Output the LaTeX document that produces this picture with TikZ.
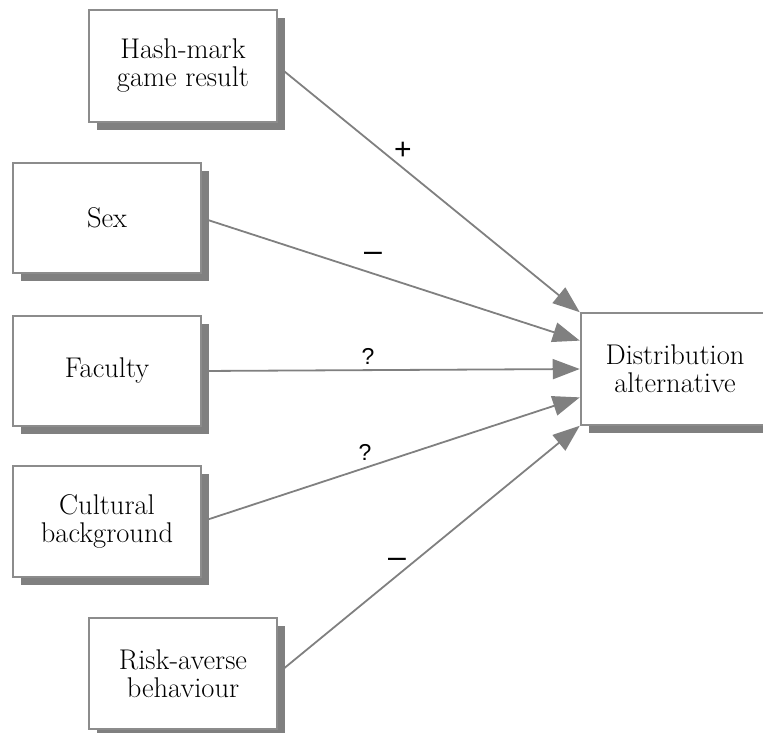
\documentclass[tikz,border=0pt]{standalone}
\usepackage{fontspec}
\newfontfamily\labelfont{Liberation Sans}
\usetikzlibrary{arrows.meta,shadows,backgrounds,calc}
\definecolor{linegray}{HTML}{808080}
\definecolor{bordergray}{HTML}{8C8C8C}
\begin{document}
\begin{tikzpicture}[x=1pt,y=-1pt,
  varbox/.style={draw=bordergray, line width=1.5pt, fill=white, minimum width=188pt,
    align=center, inner sep=0pt, font=\fontsize{28.5}{28}\selectfont,
    drop shadow={shadow xshift=8pt, shadow yshift=-8pt, fill=linegray, opacity=1}},
  link/.style={draw=linegray, line width=1.8pt, -{Triangle[length=27pt,width=20pt]}},
  sign/.style={font=\labelfont\fontsize{23}{24}\selectfont, inner sep=0pt}
]
\useasboundingbox (0,0) rectangle (763,733);
\node[varbox, minimum height=112pt] (h) at (183,66) {Hash-mark\\game result};
\node[varbox, minimum height=110pt] (s) at (107,218) {Sex};
\node[varbox, minimum height=110pt] (f) at (107,371) {Faculty};
\node[varbox, minimum height=111pt] (c) at (107,521.5) {Cultural\\background};
\node[varbox, minimum height=111pt] (r) at (183,673.5) {Risk-averse\\behaviour};
\node[varbox, minimum height=112pt] (d) at (675,369) {Distribution\\alternative};

\coordinate (d1) at ([xshift=-0.5pt]d.north west);
\coordinate (d2) at ($(d.north west)!0.25!(d.south west)+(-0.5,0)$);
\coordinate (d3) at ([xshift=-0.5pt]d.west);
\coordinate (d4) at ($(d.north west)!0.75!(d.south west)+(-0.5,0)$);
\coordinate (d5) at ([xshift=-0.5pt]d.south west);

\begin{scope}[on background layer]
\draw[link] (h.east) -- (d1);
\draw[link] (s.east) -- (d2);
\draw[link] (f.east) -- (d3);
\draw[link] (c.east) -- (d4);
\draw[link] (r.east) -- (d5);
\end{scope}

\node[sign, font=\labelfont\fontsize{30}{30}\selectfont] (lh) at (403,151) {+};
\node[sign, font=\labelfont\fontsize{32}{32}\selectfont] (ls) at (373,257) {–};
\node[sign] (lf) at (368,356) {?};
\node[sign] (lc) at (365,452) {?};
\node[sign, font=\labelfont\fontsize{32}{32}\selectfont] (lr) at (397,563) {–};
\end{tikzpicture}
\end{document}
